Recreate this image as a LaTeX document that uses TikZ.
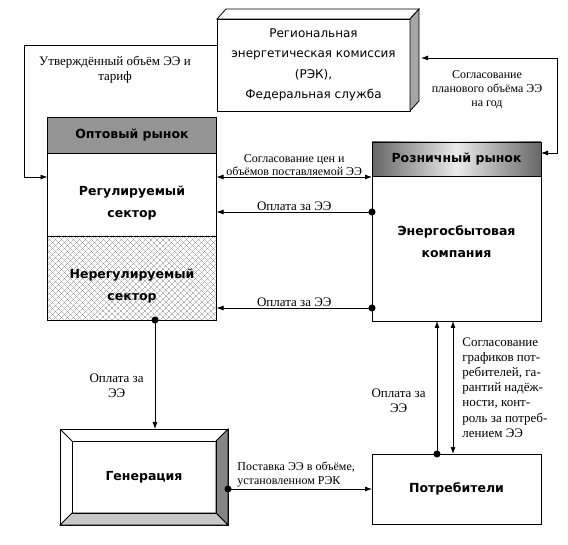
\documentclass[tikz,border=0pt]{standalone}
\usepackage{fontspec}
\setmainfont{Liberation Serif}
\newfontfamily\timesfam{Liberation Serif}
\newfontfamily\tahoma{DejaVu Sans}
\usetikzlibrary{arrows.meta,positioning,patterns.meta}

\tikzset{node distance=0pt,
  box/.style={draw,line width=0.8pt,outer sep=0pt,inner sep=0pt,minimum width=169pt,
    align=center,font=\tahoma\bfseries\fontsize{12.5}{22}\selectfont},
  hatch/.style={pattern={Lines[angle=45,distance=4pt,line width=0.35pt]},pattern color=black!45,
    preaction={pattern={Lines[angle=-45,distance=4pt,line width=0.35pt]},pattern color=black!45}},
  lbl/.style={font=\timesfam\fontsize{13}{15}\selectfont,align=center,inner sep=1pt},
  small/.style={font=\timesfam\fontsize{12}{14}\selectfont},
  arr/.style={-{Latex[length=7pt,width=5pt]}},
  arrs/.style={{Latex[length=7pt,width=5pt]}-{Latex[length=7pt,width=5pt]}},
  pay/.style={{Circle[length=7pt,sep=-3.5pt]}-{Latex[length=7pt,width=5pt]}},
}

\begin{document}
\begin{tikzpicture}[x=1pt,y=-1pt,line width=0.8pt]
  \useasboundingbox (0,0) rectangle (568,545);

  % regulator
  \node[box,font=\tahoma\fontsize{12}{20.5}\selectfont,minimum width=193pt,minimum height=92pt]
    (rek) at (313.5,65) {Региональная\\энергетическая комиссия\\(РЭК),\\Федеральная служба};
  \filldraw[fill=white] (rek.north west) -- ++(9,-10) -- ++(193,0) -- (rek.north east) -- cycle;
  \filldraw[fill=black!35] (rek.north east) -- ++(9,-10) -- ++(0,92) -- (rek.south east) -- cycle;
  \coordinate (rekside) at ([xshift=11pt]rek.east);

  % wholesale market
  \node[box,fill=black!42,minimum height=36pt] (whead) at (132,135) {Оптовый рынок};
  \node[box,minimum height=83pt,below=of whead] (wreg) {\rule{0pt}{27pt}Регулируемый\\сектор};
  \node[box,hatch,minimum height=84pt,below=of wreg] (wunreg) {\rule{0pt}{25pt}Нерегулируемый\\сектор};

  % retail market
  \node[box,minimum height=34pt,left color=black!60,right color=black!60,middle color=black!8]
    (rhead) at (456.5,159) {Розничный рынок};
  \node[box,minimum height=145pt,below=of rhead] (rbody) {Энергосбытовая\\компания\rule[-14pt]{0pt}{0pt}};

  % generation
  \node[box,minimum width=168pt,minimum height=96pt] (gen) at (144,477) {Генерация};
  \coordinate (gi1) at ([shift={(12,12)}]gen.north west);
  \coordinate (gi2) at ([shift={(-12,12)}]gen.north east);
  \coordinate (gi3) at ([shift={(-12,-12)}]gen.south east);
  \coordinate (gi4) at ([shift={(12,-12)}]gen.south west);
  \filldraw[fill=black!48] (gen.north east) -- (gen.south east) -- (gi3) -- (gi2) -- cycle;
  \filldraw[fill=black!22] (gen.south west) -- (gen.south east) -- (gi3) -- (gi4) -- cycle;
  \draw (gi1) rectangle (gi3);
  \draw (gen.north west) -- (gi1);

  % consumers
  \node[box,minimum height=70pt] (cons) at (456.5,489) {Потребители};

  % links
  \draw[arr] (rek.west |- 0,45) -- (24,45) -- (24,177) -- (wreg.west |- 0,177);
  \node[lbl] (tarif) at (115,70) {Утверждённый объём ЭЭ и\\тариф};
  \draw[arrs] (rhead.east |- 0,153) -- (557,153) -- (557,58) -- (rekside |- 0,58);
  \node[lbl,small] (plan) at (487,90) {Согласование\\планового объёма ЭЭ\\на год};
  \draw[arrs] (wreg.east |- 0,177) -- (rbody.west |- 0,177)
    node[midway,above,lbl,font=\timesfam\fontsize{12}{13}\selectfont] {Согласование цен и\\объёмов поставляемой ЭЭ};
  \draw[pay] (rbody.west |- 0,212) -- (wreg.east |- 0,212) node[midway,above,lbl] {Оплата за ЭЭ};
  \draw[pay] (rbody.west |- 0,308) -- (wunreg.east |- 0,308) node[midway,above,lbl] {Оплата за ЭЭ};
  \draw[pay] (wunreg.south -| 155,0) -- (gen.north -| 155,0)
    node[pos=0.6,left=10pt,lbl] {Оплата за\\ЭЭ};
  \draw[pay] (gen.east |- 0,489) -- (cons.west |- 0,489)
    node[at start,above right=1pt and 8pt,lbl,small,align=left]
    {Поставка ЭЭ в объёме,\\установленном РЭК};
  \draw[pay] (cons.north -| 437,0) -- (rbody.south -| 437,0)
    node[pos=0.4,left=10pt,lbl] {Оплата за\\ЭЭ};
  \draw[arrs] (rbody.south -| 453,0) -- (cons.north -| 453,0)
    node[midway,right=8pt,lbl,align=left,font=\timesfam\fontsize{13}{15.2}\selectfont]
    {Согласование\\графиков пот-\\ребителей, га-\\рантий надёж-\\ности, конт-\\роль за потреб-\\лением ЭЭ};
\end{tikzpicture}
\end{document}
